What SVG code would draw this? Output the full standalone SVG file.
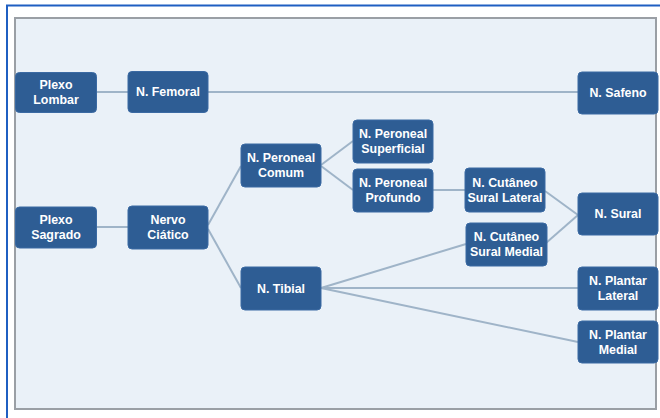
<svg xmlns="http://www.w3.org/2000/svg" width="660" height="418" viewBox="0 0 660 418">
<style>
.n rect{fill:#2e5d94;stroke:#3b6aa3;stroke-width:1}
.n text{fill:#ffffff;font-family:"Liberation Sans",Arial,sans-serif;font-weight:bold;font-size:12.4px;text-anchor:middle;dominant-baseline:central}
.c line{stroke:#9fb4c8;stroke-width:2;fill:none}
</style>
<rect x="0" y="0" width="660" height="418" fill="#ffffff"/>
<path d="M7,418 V5.5 H660" fill="none" stroke="#1f5fc2" stroke-width="2"/>
<rect x="15" y="18" width="641" height="391" fill="#eaf1f8" stroke="#9a9fa5" stroke-width="2"/>
<g class="c" id="connectors">
<line x1="96" y1="92" x2="128" y2="92"/>
<line x1="208" y1="92" x2="578" y2="92"/>
<line x1="96" y1="227" x2="128" y2="227"/>
<line x1="208" y1="225" x2="241" y2="166"/>
<line x1="208" y1="229" x2="241" y2="288"/>
<line x1="321" y1="165" x2="353" y2="141"/>
<line x1="321" y1="166" x2="353" y2="190"/>
<line x1="433" y1="190" x2="465" y2="190"/>
<line x1="545" y1="191" x2="578" y2="215"/>
<line x1="546" y1="243" x2="578" y2="215"/>
<line x1="321" y1="288" x2="466" y2="244"/>
<line x1="321" y1="288" x2="578" y2="288"/>
<line x1="321" y1="288" x2="578" y2="342"/>
</g>
<g class="n" id="plexo-lombar"><rect x="15.5" y="72.5" width="81" height="40" rx="4"/><text x="56" y="85">Plexo</text><text x="56" y="100">Lombar</text></g>
<g class="n" id="n-femoral"><rect x="128" y="71.5" width="80" height="41" rx="4"/><text x="168" y="92">N. Femoral</text></g>
<g class="n" id="n-safeno"><rect x="578" y="72" width="80" height="42" rx="4"/><text x="618" y="93">N. Safeno</text></g>
<g class="n" id="plexo-sagrado"><rect x="15.5" y="207" width="81" height="41" rx="4"/><text x="56" y="220">Plexo</text><text x="56" y="235">Sagrado</text></g>
<g class="n" id="nervo-ciatico"><rect x="128" y="206" width="80" height="43" rx="4"/><text x="168" y="220">Nervo</text><text x="168" y="235">Ciático</text></g>
<g class="n" id="n-peroneal-comum"><rect x="241" y="144" width="80" height="43" rx="4"/><text x="281" y="158">N. Peroneal</text><text x="281" y="173">Comum</text></g>
<g class="n" id="n-tibial"><rect x="241" y="267" width="80" height="43" rx="4"/><text x="281" y="289">N. Tibial</text></g>
<g class="n" id="n-peroneal-superficial"><rect x="353" y="120" width="80" height="43" rx="4"/><text x="393" y="134">N. Peroneal</text><text x="393" y="149">Superficial</text></g>
<g class="n" id="n-peroneal-profundo"><rect x="353" y="169" width="80" height="43" rx="4"/><text x="393" y="183">N. Peroneal</text><text x="393" y="198">Profundo</text></g>
<g class="n" id="n-cutaneo-sural-lateral"><rect x="465" y="168" width="80" height="44" rx="4"/><text x="505" y="183">N. Cutâneo</text><text x="505" y="198">Sural Lateral</text></g>
<g class="n" id="n-cutaneo-sural-medial"><rect x="466" y="223" width="81" height="43" rx="4"/><text x="506.5" y="237">N. Cutâneo</text><text x="506.5" y="252">Sural Medial</text></g>
<g class="n" id="n-sural"><rect x="578" y="193" width="80" height="42" rx="4"/><text x="618" y="214">N. Sural</text></g>
<g class="n" id="n-plantar-lateral"><rect x="578" y="267" width="80" height="43" rx="4"/><text x="618" y="281">N. Plantar</text><text x="618" y="296">Lateral</text></g>
<g class="n" id="n-plantar-medial"><rect x="578" y="321" width="80" height="42" rx="4"/><text x="618" y="335">N. Plantar</text><text x="618" y="350">Medial</text></g>
</svg>
